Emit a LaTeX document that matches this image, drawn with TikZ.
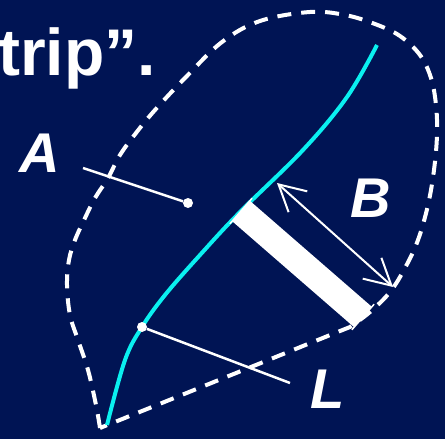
\documentclass[tikz,border=0pt]{standalone}
\usepackage{fontspec}
\setmainfont{Liberation Sans}
\usepackage{xcolor}
\usepackage{tikz}
\usetikzlibrary{arrows.meta,calc}
\definecolor{slnavy}{RGB}{0,20,84}
\definecolor{slcyan}{RGB}{10,240,240}

\begin{document}
\begin{tikzpicture}[x=1pt, y=-1pt,
  lbl/.style={text=white, inner sep=0pt, font=\fontsize{56}{60}\selectfont\bfseries\itshape},
  dot/.style={circle, fill=white, inner sep=0pt, minimum size=10pt},
  pointer/.style={white, line width=2.5pt},
  outline/.style={white, line width=4pt, dash pattern=on 14pt off 10pt},
  arr/.style={{Straight Barb[length=26pt,width=28pt]}-{Straight Barb[length=26pt,width=28pt]}, white, line width=2pt}
]
\fill[slnavy] (0,0) rectangle (445,439);
\useasboundingbox (0,0) rectangle (445,439);

% heading fragment
\node[anchor=base west, inner sep=0pt, text=white,
      font=\fontsize{66}{70}\selectfont\bfseries] (head) at (-2,75) {trip”.};

% dashed region
\draw[outline] plot[smooth, tension=0.6] coordinates {
  (100,428) (96,405) (88,370) (78,340) (70,315) (67,285) (69,260) (75,240)
  (85,218) (95,198) (108,178) (120,155) (136,133) (155,110) (185,78) (222,42)
  (260,21) (310,12) (345,15) (375,24) (400,36) (420,55) (431,78) (436,105)
  (437,135) (434,170) (428,205) (418,240) (405,268) (390,292) (370,312) (350,327)}
  -- cycle;

% cyan curve
\draw[slcyan, line width=4pt] plot[smooth, tension=0.6] coordinates {
  (107,425) (125,360) (142,327) (165,295) (200,255) (240,212) (303,150) (347,97) (377,45)};

% thick bar with end ticks
\coordinate (barA) at (241,211);
\coordinate (barB) at (363,317);
\draw[white, line width=27pt] (barA) -- (barB);
\draw[white, line width=1.5pt] ($(barA)!17pt!90:(barB)$) -- ($(barA)!17pt!-90:(barB)$);
\draw[white, line width=1.5pt] ($(barB)!17pt!90:(barA)$) -- ($(barB)!17pt!-90:(barA)$);

% width arrow
\coordinate (bTop) at (277,183);
\coordinate (bBot) at (393,287);
\draw[arr] (bTop) -- (bBot);

% labels and pointers
\node[lbl] (A) at (40,153) {A};
\node[lbl] (B) at (371,198) {B};
\node[lbl] (L) at (328,389) {L};

\coordinate (aTail) at (83,168);
\node[dot] (aDot) at (188,203) {};
\draw[pointer] (aTail) -- (aDot);

\coordinate (lTail) at (290,383);
\node[dot] (lDot) at (142,327) {};
\draw[pointer] (lDot) -- (lTail);
\end{tikzpicture}
\end{document}
